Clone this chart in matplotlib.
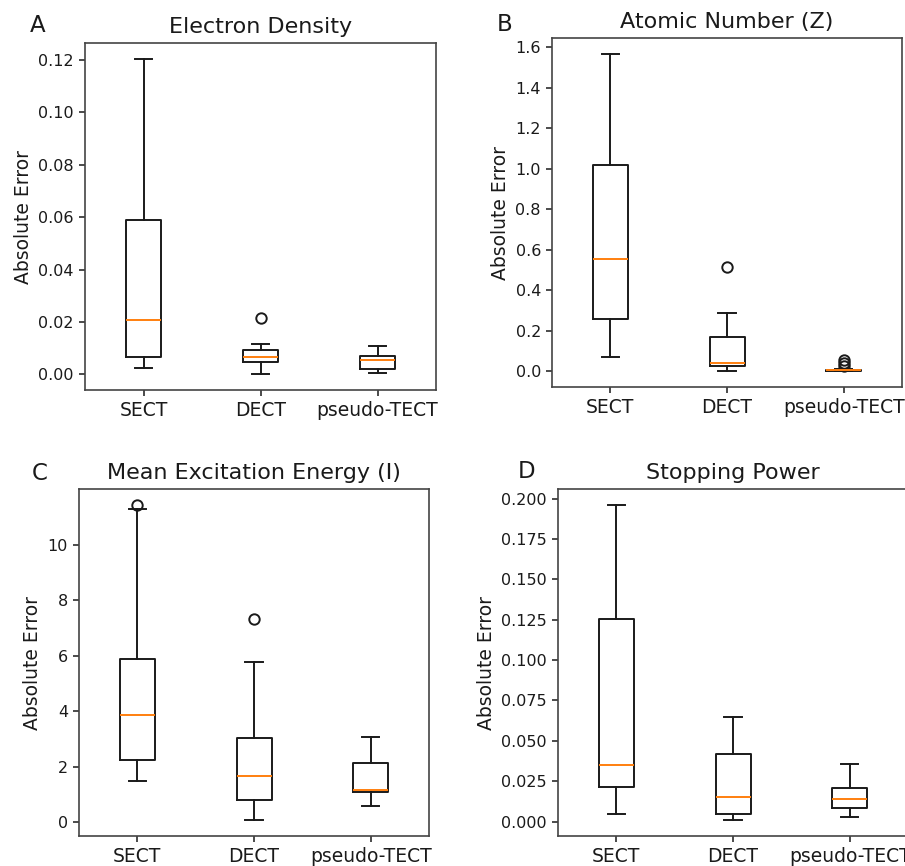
import matplotlib
matplotlib.use("Agg")
import matplotlib.pyplot as plt

W, H = 905, 866

categories = ["SECT", "DECT", "pseudo-TECT"]

titles = ["Electron Density", "Atomic Number (Z)",
          "Mean Excitation Energy (I)", "Stopping Power"]
panel_letters = ["A", "B", "C", "D"]
ylabel = "Absolute Error"

# per panel: [SECT, DECT, pseudo-TECT] summary stats
# (whislo, q1, med, q3, whishi)
ed_whislo = [0.0024, 0.0000, 0.0003]
ed_q1 = [0.0066, 0.0045, 0.0020]
ed_med = [0.0209, 0.0066, 0.0054]
ed_q3 = [0.0589, 0.0093, 0.0068]
ed_whishi = [0.1205, 0.0117, 0.0107]
ed_fliers = [[], [0.0215], []]

z_whislo = [0.071, 0.000, 0.000]
z_q1 = [0.258, 0.025, 0.001]
z_med = [0.555, 0.040, 0.004]
z_q3 = [1.016, 0.170, 0.006]
z_whishi = [1.567, 0.288, 0.011]
z_fliers = [[], [0.515], [0.025, 0.041, 0.053]]

i_whislo = [1.48, 0.08, 0.59]
i_q1 = [2.25, 0.80, 1.08]
i_med = [3.85, 1.68, 1.18]
i_q3 = [5.88, 3.03, 2.14]
i_whishi = [11.26, 5.77, 3.09]
i_fliers = [[11.43], [7.33], []]

sp_whislo = [0.0046, 0.0008, 0.0031]
sp_q1 = [0.0213, 0.0048, 0.0085]
sp_med = [0.0352, 0.0155, 0.0137]
sp_q3 = [0.1257, 0.0420, 0.0209]
sp_whishi = [0.1963, 0.0646, 0.0356]
sp_fliers = [[], [], []]

panels = [
    (ed_whislo, ed_q1, ed_med, ed_q3, ed_whishi, ed_fliers),
    (z_whislo, z_q1, z_med, z_q3, z_whishi, z_fliers),
    (i_whislo, i_q1, i_med, i_q3, i_whishi, i_fliers),
    (sp_whislo, sp_q1, sp_med, sp_q3, sp_whishi, sp_fliers),
]

# axes rectangles in pixels: left, top, right, bottom
rects = [(85, 43, 436, 390), (552, 38, 902, 387),
         (79, 489, 429, 836), (558, 489, 908, 836)]
letter_pos = [(30, 32), (497, 31), (32, 480), (518, 478)]

fig = plt.figure(figsize=(W / 100, H / 100), dpi=100)

lw = 1.4
for k in range(4):
    l, t, r, b = rects[k]
    ax = fig.add_axes([l / W, 1 - b / H, (r - l) / W, (b - t) / H])
    wl, q1, md, q3, wh, fl = panels[k]
    stats = []
    for j, c in enumerate(categories):
        stats.append(dict(label=c, whislo=wl[j], q1=q1[j], med=md[j],
                          q3=q3[j], whishi=wh[j], fliers=fl[j]))
    ax.bxp(stats, positions=[1, 2, 3], widths=0.3,
           boxprops=dict(color="#1a1a1a", linewidth=lw),
           whiskerprops=dict(color="#1a1a1a", linewidth=lw),
           capprops=dict(color="#1a1a1a", linewidth=lw),
           medianprops=dict(color="#ff7f0e", linewidth=lw),
           flierprops=dict(marker="o", markersize=7.5, markerfacecolor="none",
                           markeredgecolor="#1a1a1a", markeredgewidth=1.4))
    ax.set_xlim(0.5, 3.5)
    ax.set_title(titles[k], fontsize=16, pad=7, color="#1a1a1a")
    ax.set_ylabel(ylabel, fontsize=13.5, color="#1a1a1a")
    ax.tick_params(axis="y", labelsize=11.5, length=4.5, width=1.1,
                   colors="#1a1a1a")
    ax.tick_params(axis="x", labelsize=13.5, length=4.5, width=1.1,
                   colors="#1a1a1a")
    for s in ax.spines.values():
        s.set_linewidth(1.2)
        s.set_color("#444444")
    fig.text(letter_pos[k][0] / W, 1 - letter_pos[k][1] / H, panel_letters[k],
             fontsize=16.5, color="#1a1a1a", ha="left", va="baseline")

fig.savefig("out.png", dpi=100, facecolor="white")
